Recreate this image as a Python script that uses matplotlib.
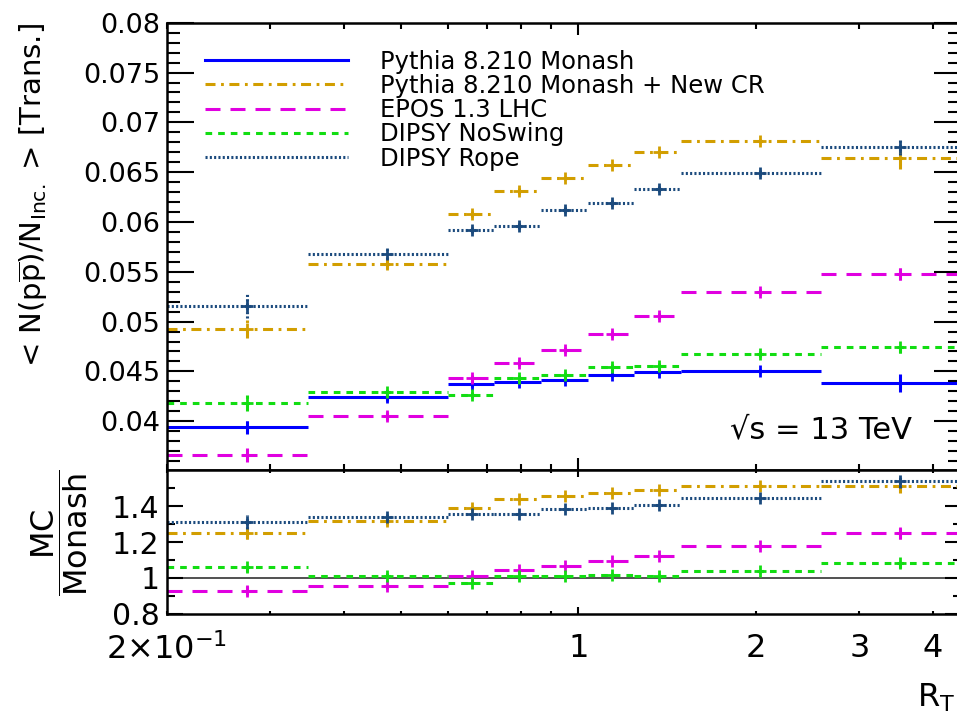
import numpy as np
import matplotlib
matplotlib.use('Agg')
import matplotlib.pyplot as plt
from matplotlib.lines import Line2D
from matplotlib.ticker import FixedLocator, FixedFormatter, NullFormatter

plt.rcParams['font.family'] = ['DejaVu Sans']
plt.rcParams['mathtext.default'] = 'regular'
plt.rcParams['lines.scale_dashes'] = False

# R_T bin edges
edges = [0.2, 0.347, 0.6, 0.72, 0.864, 1.037, 1.244, 1.493, 2.58, 4.458]

# <N(p pbar)/N_inc> in the transverse region
monash = [0.03937, 0.04243, 0.0437, 0.0439, 0.04417, 0.04463, 0.04497, 0.04503, 0.04387]
monash_err = [0.0007, 0.0004, 0.0003, 0.0002, 0.0002, 0.0002, 0.0002, 0.0002, 0.0009]
newcr = [0.04923, 0.05583, 0.06077, 0.0631, 0.0644, 0.06567, 0.067, 0.06817, 0.0664]
newcr_err = [0.0009, 0.0006, 0.0003, 0.0003, 0.0002, 0.0002, 0.0002, 0.0002, 0.0011]
epos = [0.0366, 0.0405, 0.0443, 0.0458, 0.0471, 0.04877, 0.05057, 0.05297, 0.05473]
epos_err = [0.0007, 0.0004, 0.0003, 0.0003, 0.0003, 0.0003, 0.0003, 0.0003, 0.0006]
noswing = [0.0418, 0.04293, 0.0426, 0.0443, 0.04463, 0.0454, 0.04553, 0.04673, 0.04743]
noswing_err = [0.0008, 0.0004, 0.0003, 0.0003, 0.0003, 0.0003, 0.0003, 0.0003, 0.0006]
rope = [0.05157, 0.05677, 0.05923, 0.05963, 0.06117, 0.0619, 0.0633, 0.06493, 0.0675]
rope_err = [0.0012, 0.0005, 0.0003, 0.0003, 0.0003, 0.0003, 0.0003, 0.0003, 0.0008]

labels = ['Pythia 8.210 Monash', 'Pythia 8.210 Monash + New CR', 'EPOS 1.3 LHC',
          'DIPSY NoSwing', 'DIPSY Rope']
colors = ['#0000ff', '#d29e00', '#e000e0', '#12dd12', '#1b4a7d']
styles = ['solid', (0, (7.2, 4, 2, 4)), (0, (10.8, 7.2)), (0, (4.8, 4.3)), (0, (1.5, 1.6))]

lo = np.array(edges[:-1])
hi = np.array(edges[1:])
xc = (lo + hi) / 2
lw = 2.2

fig = plt.figure(figsize=(9.57, 7.22), dpi=100)
ax = fig.add_axes([0.1742, 0.3490, 0.8297, 0.6195])
ax2 = fig.add_axes([0.1742, 0.1496, 0.8297, 0.1994])


def draw(a, y, e, c, ls):
    y = np.array(y)
    e = np.array(e)
    a.hlines(y, lo, hi, colors=c, linestyles=ls, lw=lw)
    a.vlines(xc, y - e, y + e, colors=c, linestyles=ls, lw=lw)
    a.plot(xc, y, ls='none', marker='+', ms=9, mew=2.0, color=c)


series = [(monash, monash_err), (newcr, newcr_err), (epos, epos_err),
          (noswing, noswing_err), (rope, rope_err)]
m = np.array(monash)
me = np.array(monash_err)
for i, (y, e) in enumerate(series):
    draw(ax, y, e, colors[i], styles[i])
    if i > 0:
        r = np.array(y) / m
        re = r * np.sqrt((np.array(e) / np.array(y)) ** 2 + (me / m) ** 2)
        draw(ax2, r, re, colors[i], styles[i])

ax2.axhline(1.0, color='#333333', lw=1.2, zorder=0)

for a in (ax, ax2):
    a.set_xscale('log')
    a.set_xlim(0.2, 4.458)
    for s in a.spines.values():
        s.set_linewidth(1.8)
    a.xaxis.set_major_locator(FixedLocator([1]))
    a.xaxis.set_minor_locator(FixedLocator([0.2, 0.3, 0.4, 0.5, 0.6, 0.7, 0.8, 0.9, 2, 3, 4]))

ax.set_ylim(0.0351, 0.0800)
ax.set_yticks(np.arange(0.04, 0.0801, 0.005))
ax.set_yticklabels(['0.04', '0.045', '0.05', '0.055', '0.06', '0.065', '0.07', '0.075', '0.08'])
ax.yaxis.set_minor_locator(FixedLocator(np.arange(0.036, 0.0801, 0.001)))
ax.tick_params(axis='y', which='major', direction='in', length=19.5, width=1.5,
               right=True, labelsize=19.5, pad=4.5)
ax.tick_params(axis='y', which='minor', direction='in', length=9.4, width=1.5, right=True)
ax.tick_params(axis='x', which='major', direction='in', length=8.6, width=1.5, top=True,
               labelbottom=False)
ax.tick_params(axis='x', which='minor', direction='in', length=4.3, width=1.5, top=True,
               labelbottom=False)
ax.xaxis.set_minor_formatter(NullFormatter())

ax2.set_ylim(0.8, 1.6)
ax2.set_yticks([0.8, 1.0, 1.2, 1.4])
ax2.set_yticklabels(['0.8', '1', '1.2', '1.4'])
ax2.yaxis.set_minor_locator(FixedLocator([0.9, 1.1, 1.3, 1.5]))
ax2.tick_params(axis='y', which='major', direction='in', length=11.5, width=1.5,
                right=True, labelsize=21.5, pad=5)
ax2.tick_params(axis='y', which='minor', direction='in', length=5.8, width=1.5, right=True)
ax2.tick_params(axis='x', which='major', direction='in', length=5, width=1.5, top=True,
                labelsize=23, pad=14)
ax2.tick_params(axis='x', which='minor', direction='in', length=2.5, width=1.5, top=True,
                labelsize=23, pad=14)
ax2.xaxis.set_major_formatter(FixedFormatter(['1']))
ax2.xaxis.set_minor_formatter(FixedFormatter(
    [r'$2{\times}10^{-1}$', '', '', '', '', '', '', '', '2', '3', '4']))

handles = [Line2D([], [], color=colors[i], ls=styles[i], lw=lw) for i in range(5)]
ax.legend(handles, labels, loc='upper left', bbox_to_anchor=(0.0482, 0.940),
          frameon=False, fontsize=17.5, handlelength=5.88, handletextpad=1.32,
          labelspacing=0.01, borderpad=0, borderaxespad=0)

ax.text(0.7094, 0.0894, '√s = 13 TeV', transform=ax.transAxes, fontsize=22,
        ha='left', va='center')

fig.text(0.0345, 0.968, r'< N(p$\overline{\mathrm{p}}$)/N$_{\mathrm{Inc.}}$ > [Trans.]',
         rotation=90, ha='center', va='top', fontsize=21)
fig.text(0.0627, 0.2618, r'$\dfrac{\mathrm{MC}}{\mathrm{Monash}}$', rotation=90,
         ha='center', va='center', fontsize=23)
fig.text(0.998, 0.034, r'R$_{\mathrm{T}}$', ha='right', va='center', fontsize=23)

fig.savefig('out.png', dpi=100)
